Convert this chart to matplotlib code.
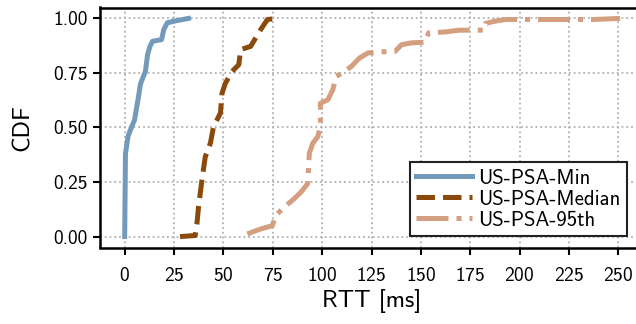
import matplotlib
matplotlib.use("Agg")
import matplotlib.pyplot as plt

# CDF points
min_x = [0.0, 0.4, 1.7, 3.4, 5.0, 6.8, 8.0, 9.3, 10.5, 11.6, 12.8, 14.1, 18.7, 19.8, 21.6, 25.5, 32.3]
min_y = [0.0, 0.38, 0.46, 0.50, 0.535, 0.63, 0.70, 0.73, 0.757, 0.834, 0.872, 0.895, 0.903, 0.949, 0.98, 0.988, 1.0]

med_x = [28.0, 35.7, 36.6, 37.4, 39.1, 40.8, 43.4, 45.0, 48.5, 49.3, 51.0, 54.4, 57.8, 58.7, 63.8, 66.3, 68.9, 72.3, 77.4]
med_y = [0.0, 0.005, 0.06, 0.135, 0.258, 0.365, 0.428, 0.504, 0.566, 0.657, 0.703, 0.757, 0.788, 0.857, 0.872, 0.91, 0.949, 0.995, 1.0]

p95_x = [62.1, 68.9, 74.8, 76.5, 80.8, 85.9, 89.3, 92.7, 93.5, 95.2, 97.8, 99.1, 99.1, 102.9,
         105.4, 107.1, 111.4, 114.8, 119.0, 123.3, 130.0, 136.9, 140.3, 145.4, 152.2, 153.9,
         162.4, 169.2, 182.0, 182.8, 187.9, 193.0, 208.3, 237.2, 250.9]
p95_y = [0.012, 0.035, 0.05, 0.097, 0.135, 0.174, 0.204, 0.243, 0.381, 0.427, 0.458, 0.504, 0.611, 0.627,
         0.673, 0.734, 0.757, 0.78, 0.819, 0.842, 0.847, 0.849, 0.88, 0.888, 0.891, 0.934,
         0.938, 0.946, 0.946, 0.977, 0.988, 0.995, 0.995, 0.995, 1.0]

labels = ["US-PSA-Min", "US-PSA-Median", "US-PSA-95th"]
colors = ["#7399bb", "#8b4a0c", "#d49e80"]
x_ticks = [0, 25, 50, 75, 100, 125, 150, 175, 200, 225, 250]
y_ticks = [0.0, 0.25, 0.5, 0.75, 1.0]

plt.rcParams["font.family"] = ["cmss10", "DejaVu Sans"]
plt.rcParams["axes.unicode_minus"] = False
plt.rcParams["axes.formatter.use_mathtext"] = True

fig = plt.figure(figsize=(6.36, 3.24), dpi=100)
ax = fig.add_axes([100 / 636, 1 - 247.5 / 324, 543 / 636, 240 / 324])

ax.plot(min_x, min_y, color=colors[0], lw=3.6, ls="-", label=labels[0])
ax.plot(med_x, med_y, color=colors[1], lw=3.6, ls="--", label=labels[1])
ax.plot(p95_x, p95_y, color=colors[2], lw=3.6, ls="-.", label=labels[2])

ax.set_xlim(-12.5, 262.5)
ax.set_ylim(-0.05, 1.05)
ax.set_xticks(x_ticks)
ax.set_yticks(y_ticks)
ax.set_yticklabels([f"{v:.2f}" for v in y_ticks])
ax.grid(True, ls=":", color="#b0b0b0", lw=1.3)
ax.set_axisbelow(True)

for s in ax.spines.values():
    s.set_linewidth(1.8)
ax.tick_params(width=1.5, length=5, labelsize=14, pad=4)
ax.tick_params(axis="x", pad=9)
ax.set_xlabel("RTT [ms]", fontsize=17.5, labelpad=3)
ax.set_ylabel("CDF", fontsize=17.5, labelpad=14)

leg = ax.legend(loc="lower right", bbox_to_anchor=(0.9705, 0.048), borderaxespad=0,
                fontsize=15, handlelength=2.7, handletextpad=0.3, labelspacing=0.1,
                borderpad=0.3, fancybox=False, framealpha=1, edgecolor="#222222")
leg.get_frame().set_linewidth(1.5)

fig.savefig("out.png", dpi=100)
